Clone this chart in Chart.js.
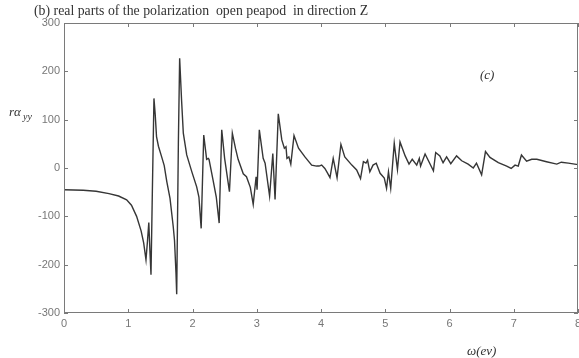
<!DOCTYPE html>
<html>
<head>
<meta charset="utf-8">
<script src="https://cdn.jsdelivr.net/npm/chart.js@4"></script>
<style>
    body { margin: 0; background: #fff; }
    #chart { display: block; }
</style>
</head>
<body>
<canvas id="chart" width="579" height="358"></canvas>
<script>
// Photon energy (eV)
const omega = [
    0, 0.3, 0.5, 0.7, 0.85, 0.975, 1.05, 1.13, 1.2, 1.24,
    1.276, 1.3, 1.32, 1.337, 1.354, 1.375, 1.4, 1.42, 1.44, 1.47,
    1.52, 1.56, 1.6, 1.65, 1.7, 1.72, 1.743, 1.754, 1.78, 1.8,
    1.83, 1.857, 1.91, 1.99, 2.065, 2.1, 2.135, 2.175, 2.22, 2.245,
    2.257, 2.32, 2.37, 2.415, 2.455, 2.5, 2.575, 2.62, 2.67, 2.71,
    2.79, 2.84, 2.9, 2.945, 2.99, 3.005, 3.04, 3.1, 3.13, 3.2,
    3.25, 3.285, 3.335, 3.39, 3.43, 3.455, 3.47, 3.5, 3.53, 3.58,
    3.65, 3.75, 3.855, 3.93, 3.97, 4.01, 4.06, 4.1, 4.14, 4.19,
    4.25, 4.31, 4.37, 4.48, 4.555, 4.615, 4.66, 4.7, 4.725, 4.76,
    4.81, 4.86, 4.92, 4.985, 5.02, 5.05, 5.085, 5.14, 5.19, 5.23,
    5.31, 5.37, 5.42, 5.49, 5.53, 5.55, 5.62, 5.68, 5.75, 5.785,
    5.85, 5.9, 5.955, 6.02, 6.11, 6.19, 6.29, 6.37, 6.42, 6.5,
    6.56, 6.63, 6.76, 6.89, 6.96, 7.02, 7.07, 7.12, 7.2, 7.28,
    7.36, 7.51, 7.67, 7.74, 7.85, 8
];

// Real part of polarization r*alpha_yy
const alphaYY = [
    -45, -46, -48, -53, -58, -66, -77, -100, -130, -155,
    -190, -150, -113, -170, -221, -50, 144, 110, 65, 45,
    23, 5, -28, -63, -121, -150, -217, -261, 50, 227,
    140, 72, 27, -8, -39, -60, -125, 68, 18, 20,
    18, -25, -60, -114, 79, 20, -49, 72, 40, 18,
    -12, -18, -40, -75, -18, -45, 79, 20, 10, -58,
    30, -65, 112, 58, 41, 44, 20, 23, 8, 67,
    41, 23, 6, 4, 4, 6, -1, -10, -20, 20,
    -20, 49, 23, 6, -4, -22, 13, 10, 16, -8,
    6, 10, -11, -21, -42, -8, -42, 51, -3, 54,
    25, 8, 18, 6, 20, 4, 29, 13, -6, 32,
    25, 11, 23, 9, 25, 15, 8, 0, 10, -14,
    34, 22, 11, 4, -1, 6, 4, 27, 14, 18,
    18, 13, 8, 12, 10, 7
];

// Axis ticks
const xTicks = [0, 1, 2, 3, 4, 5, 6, 7, 8];
const yTicks = [-300, -200, -100, 0, 100, 200, 300];

const titleText = '(b) real parts of the polarization  open peapod  in direction Z';

// Box frame, inward ticks and the serif annotations
const annotations = {
    id: 'annotations',
    afterDraw(chart) {
        const ctx = chart.ctx;
        const area = chart.chartArea;
        const xs = chart.scales.x;
        const ys = chart.scales.y;

        ctx.save();
        ctx.strokeStyle = '#7a7a7a';
        ctx.lineWidth = 1;
        ctx.strokeRect(area.left + 0.5, area.top + 0.5, area.right - area.left - 1, area.bottom - area.top - 1);

        ctx.beginPath();
        xTicks.forEach(v => {
            const px = Math.round(xs.getPixelForValue(v)) + 0.5;
            ctx.moveTo(px, area.bottom);
            ctx.lineTo(px, area.bottom - 4);
            ctx.moveTo(px, area.top);
            ctx.lineTo(px, area.top + 4);
        });
        yTicks.forEach(v => {
            const py = Math.round(ys.getPixelForValue(v)) + 0.5;
            ctx.moveTo(area.left, py);
            ctx.lineTo(area.left + 4, py);
            ctx.moveTo(area.right, py);
            ctx.lineTo(area.right - 4, py);
        });
        ctx.stroke();

        ctx.fillStyle = '#333';
        ctx.textBaseline = 'alphabetic';
        ctx.textAlign = 'left';
        ctx.font = '13.8px "Liberation Serif"';
        ctx.fillText(titleText, 34, 15);

        ctx.font = 'italic 13px "Liberation Serif"';
        ctx.fillText('rα', 9, 116);
        ctx.font = 'italic 10px "Liberation Serif"';
        ctx.fillText('yy', 23, 120);

        ctx.font = 'italic 13px "Liberation Serif"';
        ctx.fillText('(c)', 480, 79);
        ctx.fillText('ω(ev)', 467, 355);
        ctx.restore();
    }
};

const ctx = document.getElementById('chart').getContext('2d');
new Chart(ctx, {
    type: 'scatter',
    data: {
        datasets: [{
            data: omega.map((x, i) => ({ x: x, y: alphaYY[i] })),
            showLine: true,
            borderColor: '#363636',
            borderWidth: 1.4,
            pointRadius: 0,
            tension: 0
        }]
    },
    options: {
        responsive: false,
        animation: false,
        layout: { padding: { left: 0, top: 23, right: 1, bottom: 0 } },
        plugins: {
            legend: { display: false },
            tooltip: { enabled: false }
        },
        scales: {
            x: {
                type: 'linear',
                min: 0,
                max: 8,
                afterBuildTicks: scale => { scale.ticks = xTicks.map(v => ({ value: v })); },
                afterFit: scale => { scale.height = 45; scale.paddingLeft = 0; scale.paddingRight = 0; },
                grid: { display: false, drawTicks: false },
                border: { display: false },
                ticks: {
                    padding: 4,
                    color: '#777',
                    font: { family: '"Liberation Sans"', size: 11 },
                    maxRotation: 0
                }
            },
            y: {
                type: 'linear',
                min: -300,
                max: 300,
                afterBuildTicks: scale => { scale.ticks = yTicks.map(v => ({ value: v })); },
                afterFit: scale => { scale.width = 64; scale.paddingTop = 0; scale.paddingBottom = 0; },
                grid: { display: false, drawTicks: false },
                border: { display: false },
                ticks: {
                    padding: 4,
                    color: '#777',
                    font: { family: '"Liberation Sans"', size: 11 }
                }
            }
        }
    },
    plugins: [annotations]
});
</script>
</body>
</html>
